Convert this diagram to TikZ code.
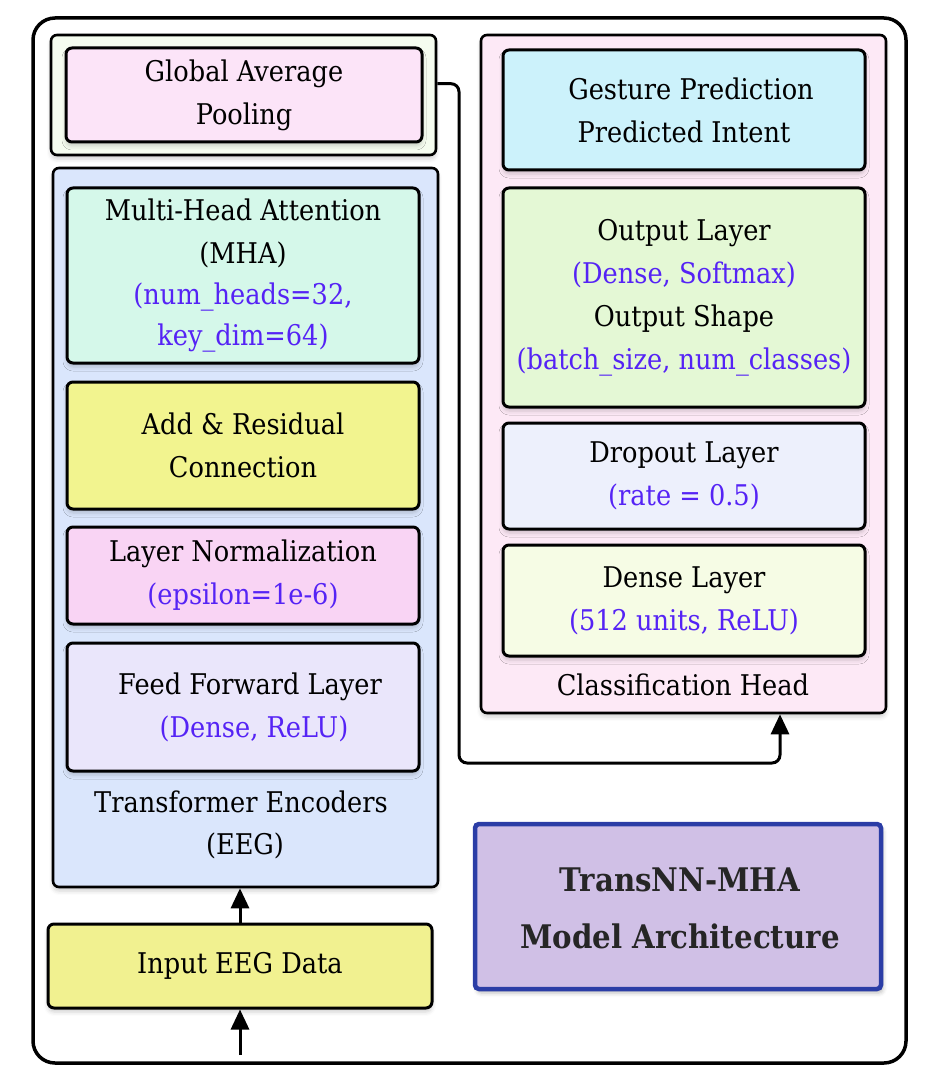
\documentclass[tikz,border=0pt]{standalone}
\usepackage{fontspec}
\setmainfont{DejaVu Serif}[FakeStretch=0.9]
\usetikzlibrary{arrows.meta,shadows.blur,calc}
\definecolor{bluetxt}{RGB}{85,35,245}
\definecolor{cgapc}{HTML}{F5FCEF}
\definecolor{cgap}{HTML}{FCE4F8}
\definecolor{ctenc}{HTML}{DAE6FC}
\definecolor{cmha}{HTML}{D5F8EA}
\definecolor{cadd}{HTML}{F2F48F}
\definecolor{cln}{HTML}{F9D4F4}
\definecolor{cff}{HTML}{EAE6FB}
\definecolor{cinput}{HTML}{F1F190}
\definecolor{cclsc}{HTML}{FDE9F6}
\definecolor{cgest}{HTML}{CCF2FB}
\definecolor{coutl}{HTML}{E4F8D5}
\definecolor{cdrop}{HTML}{EDF0FC}
\definecolor{cdense}{HTML}{F6FCE5}
\definecolor{ctitle}{HTML}{D0C0E6}
\definecolor{ctitleb}{HTML}{2B3DA6}
\tikzset{
  basefont/.style={font=\fontsize{28.5}{43}\selectfont},
  container/.style={draw=black, line width=2.6pt, rounded corners=6pt, inner sep=0pt,
    blur shadow={shadow xshift=0pt, shadow yshift=-4pt, shadow opacity=18, shadow blur radius=4pt}},
  layerbox/.style={draw=black, line width=3pt, rounded corners=6pt, inner sep=0pt, align=center, basefont,
    blur shadow={shadow xshift=0pt, shadow yshift=-4pt, shadow opacity=18, shadow blur radius=4pt}},
  plain/.style={inner sep=0pt, basefont},
  conn/.style={draw=black, line width=3pt, rounded corners=8pt, -{Triangle[length=20pt,width=18pt]}},
  arr/.style={draw=black, line width=3pt, -{Triangle[length=20pt,width=18pt]}},
}
\newcommand{\bt}[1]{\textcolor{bluetxt}{#1}}
\begin{document}
\begin{tikzpicture}[x=1pt,y=-1pt]
\useasboundingbox (0,0) rectangle (931,1083);
% outer frame
\node[draw=black, line width=3.5pt, rounded corners=22pt, minimum width=873pt, minimum height=1045pt, inner sep=0pt] (frame) at (469.5,540.5) {};
% left column
\node[container, fill=cgapc, minimum width=385pt, minimum height=120pt] (gapc) at (243.5,95) {};
\node[layerbox, fill=cgap, minimum width=356pt, minimum height=94pt] (gap) at (244,95) {Global Average\\Pooling};
\node[container, fill=ctenc, minimum width=385pt, minimum height=719pt] (tenc) at (245.5,527.5) {};
\node[layerbox, fill=cmha, minimum width=352pt, minimum height=175pt] (mha) at (243,275.5)
  {Multi-Head Attention\\(MHA)\\[-2pt]\bt{(num\_heads=32,}\\[-2pt]\bt{key\_dim=64)}};
\node[layerbox, fill=cadd, minimum width=352pt, minimum height=127pt] (add) at (243,445.5) {Add \& Residual\\Connection};
\node[layerbox, fill=cln, minimum width=352pt, minimum height=97pt] (ln) at (243,575.5) {Layer Normalization\\\bt{(epsilon=1e-6)}};
\node[layerbox, fill=cff, minimum width=352pt, minimum height=128pt] (ff) at (243,707) {\hspace*{14pt}Feed Forward Layer\\\hspace*{22pt}\bt{(Dense, ReLU)}};
\node[plain] (tencl1) at (241,802) {Transformer Encoders};
\node[plain] (tencl2) at (245,846) {(EEG)};
\node[layerbox, fill=cinput, minimum width=384pt, minimum height=84pt] (input) at (240,966) {Input EEG Data};
% right column
\node[container, fill=cclsc, minimum width=405pt, minimum height=678pt] (clsc) at (683.5,374) {};
\node[layerbox, fill=cgest, minimum width=362pt, minimum height=120pt] (gest) at (684,110) {\hspace*{14pt}Gesture Prediction\\Predicted Intent};
\node[layerbox, fill=coutl, minimum width=362pt, minimum height=219pt] (outl) at (684,297.5)
  {Output Layer\\\bt{(Dense, Softmax)}\\Output Shape\\\bt{(batch\_size, num\_classes)}};
\node[layerbox, fill=cdrop, minimum width=362pt, minimum height=106pt] (drop) at (684,476) {Dropout Layer\\\bt{(rate = 0.5)}};
\node[layerbox, fill=cdense, minimum width=362pt, minimum height=111pt] (dense) at (684,600.5) {Dense Layer\\\bt{(512 units, ReLU)}};
\node[plain] (clscl) at (683,685) {Classification Head};
% title
\node[draw=ctitleb, line width=4.5pt, fill=ctitle, rounded corners=4pt, minimum width=406pt, minimum height=165pt, inner sep=0pt,
  blur shadow={shadow xshift=2pt, shadow yshift=-4pt, shadow opacity=25, shadow blur radius=4pt}] (title) at (678,906.5) {};
\node[inner sep=0pt, text=black!85, font=\fontsize{32.5}{57}\selectfont\bfseries, align=center] (titletext) at (680,908.5)
  {TransNN-MHA\\Model Architecture};
% connectors
\coordinate (bendA) at (459,763);
\coordinate (src) at (240,1055);
\draw[conn] ($(gapc.north east)+(0,50)$) -| (bendA) -| ($(clsc.south)+(96.5,0)$);
\draw[arr] (input.north) -- (input.north |- tenc.south);
\draw[arr] (src) -- (input.south);
\end{tikzpicture}
\end{document}
